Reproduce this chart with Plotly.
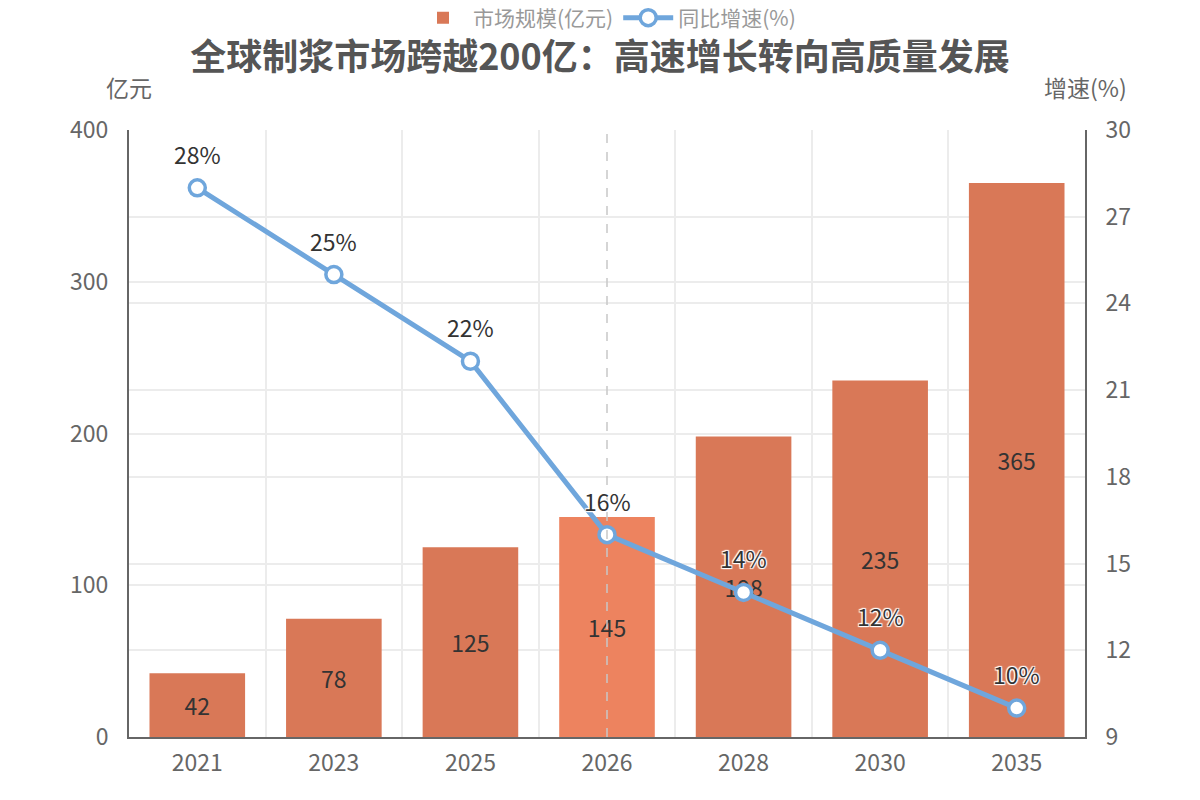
import plotly.graph_objects as go

years = ["2021", "2023", "2025", "2026", "2028", "2030", "2035"]
market_size = [42, 78, 125, 145, 198, 235, 365]
growth_rate = [28, 25, 22, 16, 14, 12, 10]
highlight_year = "2026"

FONT = "Noto Sans CJK SC, Noto Sans, sans-serif"
bar_color = "#D97857"
hl_color = "#ED835F"
line_color = "#6FA6DC"
WHITE_OUTLINE = "1px 1px 1px #fff, -1px -1px 1px #fff, 1px -1px 1px #fff, -1px 1px 1px #fff, 0 0 2px #fff"

bar_colors = [hl_color if y == highlight_year else bar_color for y in years]

fig = go.Figure()
fig.add_trace(go.Bar(
    x=years, y=market_size, name="市场规模(亿元)",
    marker=dict(color=bar_colors, line=dict(width=0)),
    width=0.7,
    text=[str(v) for v in market_size],
    textposition="inside", insidetextanchor="middle", textangle=0,
    textfont=dict(size=23, color="#333333", family=FONT),
    cliponaxis=False,
))
fig.add_trace(go.Scatter(
    x=years, y=growth_rate, name="同比增速(%)", yaxis="y2",
    mode="lines+markers",
    line=dict(color=line_color, width=5),
    marker=dict(size=16, color="white", line=dict(color=line_color, width=3.5)),
    cliponaxis=False,
))

# category axis positions (index) for annotations anchored to the data
annotations = [
    dict(text=f"{v}%", x=i, y=v, xref="x", yref="y2", yshift=34, showarrow=False,
         xanchor="center", yanchor="middle",
         font=dict(size=23, color="#333333", family=FONT, shadow=WHITE_OUTLINE))
    for i, v in enumerate(growth_rate)
]
annotations += [
    dict(text="亿元", xref="paper", yref="paper", x=0, y=1 + 43 / 607, xanchor="center",
         yanchor="middle", showarrow=False, font=dict(size=23, color="#666666", family=FONT)),
    dict(text="增速(%)", xref="paper", yref="paper", x=1, y=1 + 43 / 607, xanchor="center",
         yanchor="middle", showarrow=False, font=dict(size=23, color="#666666", family=FONT)),
]

hl_idx = years.index(highlight_year)
fig.add_shape(type="line", xref="x", yref="paper", x0=hl_idx, x1=hl_idx,
              y0=0, y1=1, line=dict(color="#c8c8c8", width=1.5, dash="dash"), layer="above")

fig.update_layout(
    width=1200, height=800,
    margin=dict(l=129, r=115, t=130, b=63),
    paper_bgcolor="white", plot_bgcolor="white",
    font=dict(family=FONT, color="#666666"),
    title=dict(text="<b>全球制浆市场跨越200亿：高速增长转向高质量发展</b>",
               x=0.5, xanchor="center", y=1 - 57 / 800, yanchor="middle",
               font=dict(size=36, color="#555555", family=FONT)),
    legend=dict(orientation="h", x=0.5, xanchor="center", y=1 - 18 / 800, yanchor="middle",
                yref="container", font=dict(size=21, color="#999999", family=FONT),
                itemwidth=50, bgcolor="rgba(0,0,0,0)"),
    bargap=0.3,
    xaxis=dict(type="category", range=[-0.5, len(years) - 0.5], tickson="boundaries",
               showgrid=True, gridcolor="#ececec",
               gridwidth=1.5, showline=True, linecolor="#666666", linewidth=2, ticks="",
               tickfont=dict(size=23, color="#666666"), zeroline=False, tickangle=0,
               ticklabelstandoff=4),
    yaxis=dict(range=[0, 400], dtick=100, showgrid=True, gridcolor="#ececec", gridwidth=1.5,
               showline=True, linecolor="#666666", linewidth=2, ticks="",
               tickfont=dict(size=23, color="#666666"), zeroline=False, ticklabelstandoff=14),
    yaxis2=dict(range=[9, 30], dtick=3, tick0=9, overlaying="y", side="right", showgrid=True,
                gridcolor="#ececec", gridwidth=1.5, showline=True, linecolor="#666666",
                linewidth=2, ticks="", tickfont=dict(size=23, color="#666666"),
                zeroline=False, ticklabelstandoff=14),
    annotations=annotations,
)

fig.write_html("out.html")
